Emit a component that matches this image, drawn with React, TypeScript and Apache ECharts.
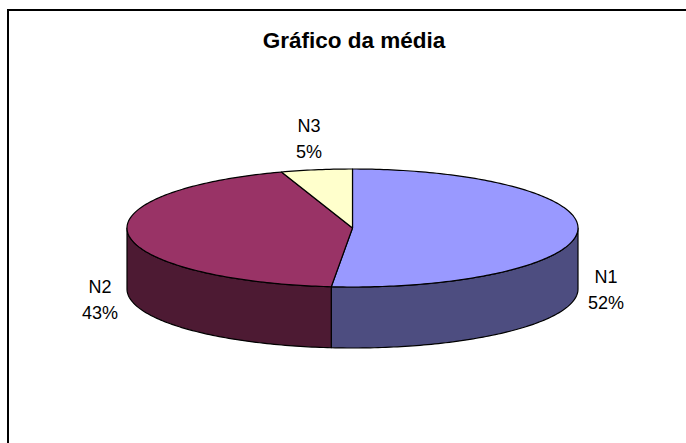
import React, { useEffect, useRef } from "react";
import * as echarts from "echarts";

const categories = ["N1", "N2", "N3"];
const values = [51.5, 43.4, 5.1];
const topColors = ["#9999FF", "#993366", "#FFFFCC"];
const sideColors = ["#4D4D80", "#4D1A33", "#808066"];

const FONT = "'Liberation Sans', Arial, sans-serif";
const CX = 352.5, CY = 228, RX = 225.5, RY = 59, DEPTH = 61;
const labelPos = [[606, 277], [100, 287], [309, 126]];

const total = values.reduce((a, b) => a + b, 0);
const pt = (t: number, dy = 0) => [CX + RX * Math.sin(t), CY - RY * Math.cos(t) + dy];

function rim(t0: number, t1: number, dy = 0) {
  const n = Math.max(2, Math.ceil(((t1 - t0) * 180) / Math.PI));
  const pts: number[][] = [];
  for (let k = 0; k <= n; k++) pts.push(pt(t0 + ((t1 - t0) * k) / n, dy));
  return pts;
}

export default function App() {
  const ref = useRef<HTMLDivElement>(null);
  useEffect(() => {
    const chart = echarts.init(ref.current!, null, { renderer: "svg", width: 686, height: 443 });
    const stroke = { stroke: "#000", lineWidth: 1.2, lineJoin: "round" };
    chart.setOption({
      animation: false,
      backgroundColor: "#fff",
      title: {
        text: "Gráfico da média",
        left: 349,
        top: 24,
        textAlign: "center",
        textStyle: { fontFamily: FONT, fontSize: 22.5, fontWeight: "bold", color: "#000" },
      },
      graphic: [
        {
          type: "rect",
          z: -1,
          shape: { x: 8, y: 10, width: 700, height: 450 },
          style: { fill: "#fff", stroke: "#000", lineWidth: 2 },
        },
      ],
      series: [
        {
          type: "custom",
          coordinateSystem: "none",
          data: values.map((v, i) => [i, v]),
          clip: false,
          renderItem: (params: any, api: any) => {
            const i = api.value(0);
            const start = values.slice(0, i).reduce((a, b) => a + b, 0);
            const t0 = (start / total) * 2 * Math.PI;
            const t1 = ((start + api.value(1)) / total) * 2 * Math.PI;
            const children: any[] = [];
            // side wall: only the visible front half of the rim, pi/2..3pi/2
            const s0 = Math.max(t0, Math.PI / 2);
            const s1 = Math.min(t1, (3 * Math.PI) / 2);
            if (s1 > s0) {
              children.push({
                type: "polygon",
                shape: { points: [...rim(s0, s1), ...rim(s0, s1, DEPTH).reverse()] },
                style: { fill: sideColors[i], ...stroke },
              });
            }
            children.push({
              type: "polygon",
              shape: { points: [[CX, CY], ...rim(t0, t1)] },
              style: { fill: topColors[i], ...stroke },
            });
            const [lx, ly] = labelPos[i];
            [categories[i], `${Math.round((api.value(1) / total) * 100)}%`].forEach((s, k) =>
              children.push({
                type: "text",
                style: {
                  text: s, x: lx, y: ly + k * 25.5, fill: "#000",
                  font: `18px ${FONT}`, textAlign: "center", textVerticalAlign: "middle",
                },
              })
            );
            return { type: "group", children };
          },
        },
      ],
    });
    return () => chart.dispose();
  }, []);
  return <div ref={ref} style={{ position: "absolute", left: 0, top: 0, width: 686, height: 443 }} />;
}
